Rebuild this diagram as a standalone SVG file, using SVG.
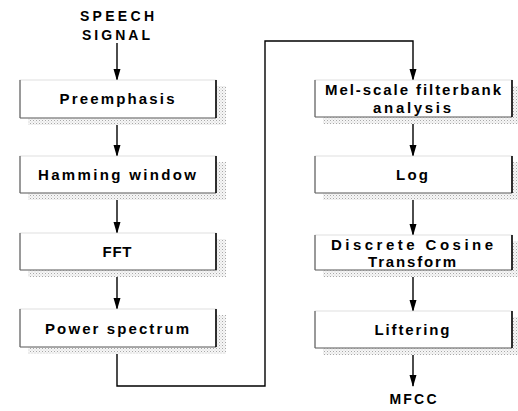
<svg xmlns="http://www.w3.org/2000/svg" width="518" height="411" viewBox="0 0 518 411">
<defs>
<pattern id="dots" width="3" height="3" patternUnits="userSpaceOnUse">
<rect width="3" height="3" fill="#f6f6f6"/>
<rect x="0" y="0" width="1" height="1" fill="#a8a8a8"/>
<rect x="1.5" y="1.5" width="1" height="1" fill="#cfcfcf"/>
</pattern>
<marker id="ah" markerWidth="12" markerHeight="8" refX="11" refY="4" orient="auto" markerUnits="userSpaceOnUse" viewBox="0 0 12 8">
<path d="M0,0.5 L12,4 L0,7.5 Z" fill="#000"/>
</marker>
</defs>
<style>
.shadow{fill:url(#dots);}
.box{fill:#fff;stroke:#d8d8d8;stroke-width:0.8;}
.le{stroke:#444;stroke-width:1;}
.re{stroke:#000;stroke-width:1.6;}
.be{stroke:#666;stroke-width:1.2;}
.t{font-family:"Liberation Sans",Arial,sans-serif;font-weight:bold;font-size:15px;fill:#000;text-anchor:middle;}
.ts{font-size:14px;}
.c{fill:none;stroke:#000;stroke-width:1.4;}
</style>
<g id="connectors">
<path class="c" d="M117,43 V80" marker-end="url(#ah)"/>
<path class="c" d="M117,118 V156" marker-end="url(#ah)"/>
<path class="c" d="M117,193 V233" marker-end="url(#ah)"/>
<path class="c" d="M117,270 V309" marker-end="url(#ah)"/>
<path class="c" d="M117,347 V386 H265 V41 H413 V80" marker-end="url(#ah)"/>
<path class="c" d="M413,117 V156" marker-end="url(#ah)"/>
<path class="c" d="M413,193 V235" marker-end="url(#ah)"/>
<path class="c" d="M413,270 V311" marker-end="url(#ah)"/>
<path class="c" d="M413,348 V386" marker-end="url(#ah)"/>
</g>
<g id="speech-signal">
<text class="t ts" x="117" y="21" textLength="74" lengthAdjust="spacing">SPEECH</text>
<text class="t ts" x="116" y="40" textLength="68" lengthAdjust="spacing">SIGNAL</text>
</g>
<g id="preemphasis">
<rect class="shadow" x="28" y="86" width="198" height="39"/>
<rect class="box" x="20" y="80" width="196" height="38"/>
<line class="le" x1="20" y1="80" x2="20" y2="118"/>
<line class="be" x1="20" y1="118" x2="216" y2="118"/>
<line class="re" x1="216" y1="80" x2="216" y2="118"/>
<text class="t" x="117" y="104" textLength="115" lengthAdjust="spacing">Preemphasis</text>
</g>
<g id="hamming">
<rect class="shadow" x="28" y="162" width="198" height="38"/>
<rect class="box" x="20" y="156" width="196" height="37"/>
<line class="le" x1="20" y1="156" x2="20" y2="193"/>
<line class="be" x1="20" y1="193" x2="216" y2="193"/>
<line class="re" x1="216" y1="156" x2="216" y2="193"/>
<text class="t" x="117" y="180" textLength="158" lengthAdjust="spacing">Hamming window</text>
</g>
<g id="fft">
<rect class="shadow" x="28" y="239" width="198" height="38"/>
<rect class="box" x="20" y="233" width="196" height="37"/>
<line class="le" x1="20" y1="233" x2="20" y2="270"/>
<line class="be" x1="20" y1="270" x2="216" y2="270"/>
<line class="re" x1="216" y1="233" x2="216" y2="270"/>
<text class="t" x="117" y="257" textLength="29" lengthAdjust="spacing">FFT</text>
</g>
<g id="power-spectrum">
<rect class="shadow" x="28" y="315" width="198" height="39"/>
<rect class="box" x="20" y="309" width="196" height="38"/>
<line class="le" x1="20" y1="309" x2="20" y2="347"/>
<line class="be" x1="20" y1="347" x2="216" y2="347"/>
<line class="re" x1="216" y1="309" x2="216" y2="347"/>
<text class="t" x="117" y="334" textLength="144" lengthAdjust="spacing">Power spectrum</text>
</g>
<g id="mel">
<rect class="shadow" x="323" y="86" width="195" height="38"/>
<rect class="box" x="315" y="80" width="197" height="37"/>
<line class="le" x1="315" y1="80" x2="315" y2="117"/>
<line class="be" x1="315" y1="117" x2="512" y2="117"/>
<line class="re" x1="512" y1="80" x2="512" y2="117"/>
<text class="t" x="413" y="95" textLength="176" lengthAdjust="spacing">Mel-scale filterbank</text>
<text class="t" x="412" y="113" textLength="78" lengthAdjust="spacing">analysis</text>
</g>
<g id="log">
<rect class="shadow" x="323" y="162" width="195" height="38"/>
<rect class="box" x="315" y="156" width="197" height="37"/>
<line class="le" x1="315" y1="156" x2="315" y2="193"/>
<line class="be" x1="315" y1="193" x2="512" y2="193"/>
<line class="re" x1="512" y1="156" x2="512" y2="193"/>
<text class="t" x="412" y="180" textLength="32" lengthAdjust="spacing">Log</text>
</g>
<g id="dct">
<rect class="shadow" x="323" y="241" width="195" height="36"/>
<rect class="box" x="315" y="235" width="197" height="35"/>
<line class="le" x1="315" y1="235" x2="315" y2="270"/>
<line class="be" x1="315" y1="270" x2="512" y2="270"/>
<line class="re" x1="512" y1="235" x2="512" y2="270"/>
<text class="t" x="412" y="250" textLength="162" lengthAdjust="spacing">Discrete Cosine</text>
<text class="t" x="412" y="267" textLength="88" lengthAdjust="spacing">Transform</text>
</g>
<g id="liftering">
<rect class="shadow" x="323" y="317" width="195" height="38"/>
<rect class="box" x="315" y="311" width="197" height="37"/>
<line class="le" x1="315" y1="311" x2="315" y2="348"/>
<line class="be" x1="315" y1="348" x2="512" y2="348"/>
<line class="re" x1="512" y1="311" x2="512" y2="348"/>
<text class="t" x="412" y="335" textLength="75" lengthAdjust="spacing">Liftering</text>
</g>
<g id="mfcc">
<text class="t ts" x="413" y="404" textLength="47" lengthAdjust="spacing">MFCC</text>
</g>
</svg>
